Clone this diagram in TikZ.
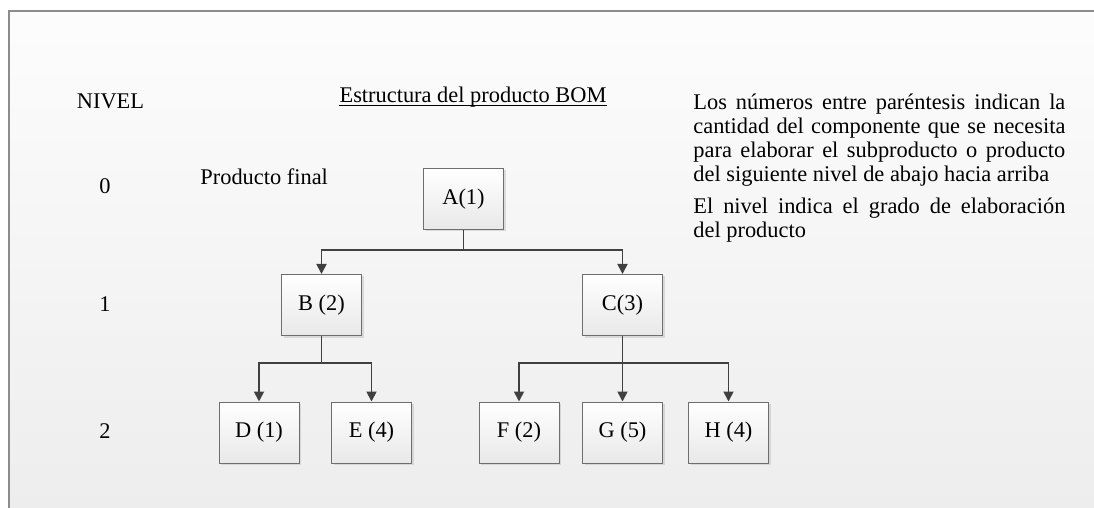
\documentclass[tikz,border=0pt]{standalone}
\usepackage{fontspec}
\setmainfont{Liberation Serif}
\usepackage{tikz}
\usetikzlibrary{arrows.meta,shadows}
\definecolor{framegray}{HTML}{8C8C8C}
\definecolor{edgegray}{HTML}{404040}
\definecolor{boxgray}{HTML}{6E6E6E}

\begin{document}
\begin{tikzpicture}[
          x=0.5pt, y=-0.5pt,
          font=\fontsize{11.2}{11.9}\selectfont,
          txt/.style={inner sep=0pt, anchor=base},
          comp/.style={draw=boxgray, line width=0.5pt, top color=white, bottom color=black!9,
                       minimum width=40pt, minimum height=30.5pt, inner sep=0pt,
                       drop shadow={shadow xshift=1pt, shadow yshift=-1pt, opacity=0.25, fill=black!45}},
          con/.style={draw=edgegray, line width=0.9pt, -{Triangle[length=5pt,width=5pt]}}
      ]
        % Page and frame
        \useasboundingbox (0,0) rectangle (1094,508);
        \shade[top color=black!1, bottom color=black!7] (9,11) rectangle (1094,508);
        \draw[framegray, line width=0.75pt] (9,508) -- (9,11) -- (1094,11);

        % Headings
        \node[txt] (nivel) at (110.5,109) {NIVEL};
        \node[txt] (title) at (473,103) {Estructura del producto BOM};
        \draw[line width=0.5pt] ([yshift=-1.4pt]title.base west) -- ([yshift=-1.4pt]title.base east);
        \node[txt, anchor=base west] (final) at (200,185) {Producto final};

        % Levels
        \foreach \n/\y in {0/194, 1/312, 2/438} {
          \node[txt] (lv\n) at (105,\y) {\n};
        }

        % Note
        \node[txt, anchor=base west] (note) at (693,110) {\parbox[t]{186pt}{\hyphenpenalty=10000\hbadness=10000
          Los números entre paréntesis indican la\linebreak
          cantidad del componente que se necesita\linebreak
          para elaborar el subproducto o producto\linebreak
          del siguiente nivel de abajo hacia arriba\par
          \vspace{4.4pt}
          El nivel indica el grado de elaboración\linebreak
          del producto}};

        % Components
        \node[comp] (A) at (463.5,199) {A(1)};

        \node[comp] (B) at (321.5,305) {B (2)};
        \node[comp] (C) at (622.5,305) {C(3)};

        \node[comp] (D) at (259,432.5) {D (1)};
        \node[comp] (E) at (371.5,432.5) {E (4)};
        \node[comp] (F) at (519,432.5) {F (2)};
        \node[comp] (G) at (622.5,432.5) {G (5)};
        \node[comp] (H) at (728.5,432.5) {H (4)};

        % Links
        \draw[con] (A.south) -- ++(0,20) -| (B.north);
        \draw[con] (A.south) -- ++(0,20) -| (C.north);

        \draw[con] (B.south) -- ++(0,27) -| (D.north);
        \draw[con] (B.south) -- ++(0,27) -| (E.north);

        \draw[con] (C.south) -- ++(0,27) -| (F.north);
        \draw[con] (C.south) -- (G.north);
        \draw[con] (C.south) -- ++(0,27) -| (H.north);
      \end{tikzpicture}
\end{document}
